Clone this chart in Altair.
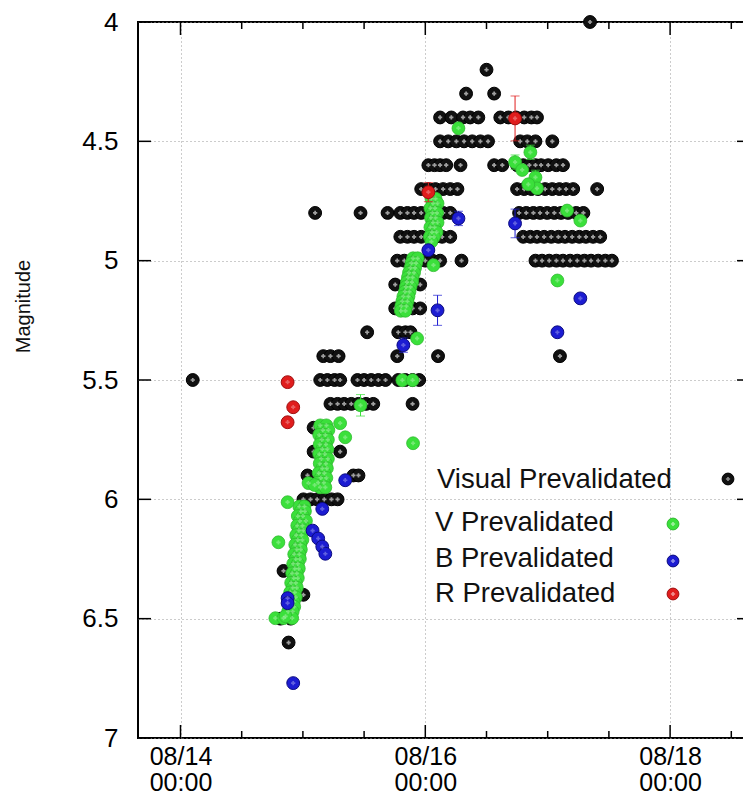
import altair as alt
import pandas as pd

FONT = "Liberation Sans"

# ---- data: hours after 2013-08-14 00:00 UT and magnitude ----
vis_hours = [
    80.3,
    60.0,
    56.0, 61.5,
    50.9, 53.1, 55.4, 56.8, 58.4, 62.7, 64.3, 65.8, 67.4, 68.8, 69.9,
    50.9, 52.5, 54.1, 55.6, 57.2, 58.8, 60.3, 66.6, 68.0, 69.6, 72.9,
    48.6, 49.8, 50.9, 52.1, 54.9, 61.5, 63.1, 66.0, 67.2, 68.4, 69.6, 70.7, 72.1, 73.7, 75.0,
    47.2, 48.6, 50.0, 51.5, 52.9, 54.3, 66.0, 67.4, 68.8, 70.1, 71.5, 72.9, 74.3, 75.6, 77.0, 81.7,
    26.4, 35.3, 40.6, 43.1, 44.5, 45.8, 47.2, 51.5, 52.9, 66.4, 67.8, 69.2, 70.5, 71.9, 73.3, 74.6, 76.0, 77.6, 79.0,
    43.1, 44.5, 45.8, 47.2, 50.0, 51.3, 52.9, 67.2, 68.6, 69.9, 71.3, 72.7, 74.1, 75.4, 76.8, 78.2, 79.5, 80.9, 82.3,
    42.5, 43.9, 45.3, 46.6, 48.0, 49.4, 50.9, 55.1, 69.6, 70.9, 72.3, 73.7, 75.0, 76.4, 77.8, 79.2, 80.5, 81.9, 83.3, 84.6,
    42.1, 44.1, 47.0,
    42.1, 43.1, 45.5, 47.0,
    36.6, 42.7, 44.1, 45.1,
    28.0, 29.4, 31.0, 42.5, 50.5, 74.4,
    2.4, 27.4, 28.8, 30.2, 31.3, 34.7, 36.0, 37.4, 38.8, 40.2, 42.7, 44.1, 45.5, 46.8,
    29.4, 30.8, 32.1, 33.5, 34.9, 36.4, 37.8, 45.5,
    26.1, 27.4,
    26.1, 31.3,
    24.9, 33.9, 34.9,
    24.1, 25.5, 26.8, 28.2, 29.6, 30.8,
    20.2,
    24.1,
    19.6, 21.6,
    21.2,
]
vis_mag = (
    [4.0] * 1 + [4.2] * 1 + [4.3] * 2 + [4.4] * 11 + [4.5] * 11 + [4.6] * 15
    + [4.7] * 16 + [4.8] * 19 + [4.9] * 19 + [5.0] * 20 + [5.1] * 3 + [5.2] * 4
    + [5.3] * 4 + [5.4] * 6 + [5.5] * 14 + [5.6] * 8 + [5.7] * 2 + [5.8] * 2
    + [5.9] * 3 + [6.0] * 6 + [6.3] * 1 + [6.4] * 1 + [6.5] * 2 + [6.6] * 1
)

v_hours = [
    # run near 08/14 23h
    23.3, 24.3, 23.6, 24.4, 23.0, 24.0, 23.4, 24.6, 22.9, 23.9, 23.2, 24.1,
    22.7, 23.7, 23.0, 23.9, 22.5, 23.5, 22.8, 23.6, 22.3, 23.3, 22.6, 23.4,
    22.1, 23.0, 22.4, 23.2, 21.9, 22.8, 22.2, 23.0, 21.7, 22.6, 22.0, 22.8,
    21.5, 22.4, 21.8, 22.6, 21.3, 22.2, 21.6, 22.3, 21.1, 22.0,
    21.0, 19.2, 18.6, 20.2, 21.9, 20.6,
    # run near 08/15 04h
    27.4, 28.6, 27.9, 29.0, 27.2, 28.4, 27.7, 28.9, 27.3, 28.5, 27.8, 28.8,
    27.2, 28.3, 27.6, 28.9, 27.3, 28.5, 27.8, 28.7, 27.1, 28.2, 27.5, 28.6,
    27.0, 28.1, 27.4, 28.4,
    31.3, 32.3, 25.1, 26.3,
    # scattered
    35.3, 45.6, 43.5, 45.5, 46.4,
    # run near 08/15 20h
    45.6, 46.5, 45.3, 46.2, 45.1, 46.0, 44.8, 45.8, 44.6, 45.5, 44.4, 45.4,
    44.2, 45.1, 44.0, 44.9, 43.7, 44.7, 43.5, 44.5, 43.3, 44.3, 43.2, 44.1,
    # run near 08/16 02h
    49.2, 50.0, 49.5, 50.4, 49.0, 49.9, 49.4, 50.3, 49.1, 50.0, 49.5, 50.4,
    49.0, 49.8, 49.3, 50.2, 48.9, 49.7, 49.2, 49.6,
    54.5,
    65.6, 68.6, 67.0, 69.6, 69.9, 68.2, 75.8, 78.4, 73.9,
]
v_mag = [
    6.03, 6.03, 6.05, 6.05, 6.07, 6.07, 6.09, 6.09, 6.11, 6.11, 6.13, 6.13,
    6.15, 6.15, 6.17, 6.17, 6.19, 6.19, 6.21, 6.21, 6.23, 6.23, 6.25, 6.25,
    6.27, 6.27, 6.29, 6.29, 6.31, 6.31, 6.33, 6.33, 6.35, 6.35, 6.37, 6.37,
    6.39, 6.39, 6.41, 6.41, 6.43, 6.43, 6.45, 6.45, 6.47, 6.47,
    6.012, 6.180, 6.498, 6.498, 6.498, 6.49,
    5.69, 5.69, 5.71, 5.71, 5.73, 5.73, 5.75, 5.75, 5.77, 5.77, 5.79, 5.79,
    5.81, 5.81, 5.83, 5.83, 5.85, 5.85, 5.87, 5.87, 5.89, 5.89, 5.91, 5.91,
    5.93, 5.93, 5.95, 5.95,
    5.681, 5.740, 5.932, 5.94,
    5.606, 5.765, 5.501, 5.501, 5.326,
    4.99, 4.99, 5.01, 5.01, 5.03, 5.03, 5.05, 5.05, 5.07, 5.07, 5.09, 5.09,
    5.11, 5.11, 5.13, 5.13, 5.15, 5.15, 5.17, 5.17, 5.19, 5.19, 5.21, 5.21,
    4.74, 4.74, 4.76, 4.76, 4.78, 4.78, 4.80, 4.80, 4.82, 4.82, 4.84, 4.84,
    4.86, 4.86, 4.88, 4.88, 4.90, 4.90, 4.92, 5.019,
    4.445,
    4.587, 4.546, 4.62, 4.651, 4.697, 4.68, 4.790, 4.832, 5.083,
]
v_err = (
    [0.0] * 52 + [0.0] * 32
    + [0.045, 0.0, 0.0, 0.0, 0.0]
    + [0.0] * 24 + [0.0] * 20 + [0.0]
    + [0.03, 0.03, 0.0, 0.03, 0.0, 0.0, 0.0, 0.0, 0.0]
)

b_hours = [22.1, 21.0, 21.0, 25.9, 27.0, 27.8, 28.4, 27.8, 32.3, 43.7, 50.4, 48.6, 54.5, 65.6, 78.4, 73.9]
b_mag = [6.770, 6.414, 6.435, 6.131, 6.164, 6.198, 6.228, 6.040, 5.920, 5.354, 5.208, 4.956, 4.823, 4.844, 5.158, 5.300]
b_err = [0, 0, 0, 0, 0, 0, 0, 0, 0, 0.03, 0.063, 0, 0.03, 0.06, 0, 0]

r_hours = [21.0, 22.1, 21.0, 48.6, 65.6]
r_mag = [5.509, 5.614, 5.677, 4.713, 4.404]
r_err = [0, 0, 0, 0.04, 0.094]

x_major_ticks = ["2013-08-14T00:00:00Z", "2013-08-16T00:00:00Z", "2013-08-18T00:00:00Z"]
x_minor_ticks = [
    "2013-08-14T12:00:00Z", "2013-08-15T00:00:00Z", "2013-08-15T12:00:00Z",
    "2013-08-16T12:00:00Z", "2013-08-17T00:00:00Z", "2013-08-17T12:00:00Z",
    "2013-08-18T12:00:00Z",
]
y_ticks = [4, 4.5, 5, 5.5, 6, 6.5, 7]
legend_labels = ["Visual Prevalidated", "V Prevalidated", "B Prevalidated", "R Prevalidated"]
series_colors = ["#111111", "#3be03b", "#1c1cd2", "#e01d1d"]
series_strokes = ["#000000", "#30bb30", "#0c0c80", "#a01010"]

W, H = 612, 716


def iso(hours):
    ts = pd.Timestamp("2013-08-14T00:00:00Z") + pd.to_timedelta(hours, unit="h")
    return list(ts.strftime("%Y-%m-%dT%H:%M:%SZ"))


def frame(hours, mags, errs=None):
    df = pd.DataFrame({"t": iso(hours), "mag": mags})
    if errs is not None:
        df["err"] = errs
        df["lo"] = df["mag"] - df["err"]
        df["hi"] = df["mag"] + df["err"]
    return df


vis_df = frame(vis_hours, vis_mag)
v_df = frame(v_hours, v_mag, v_err)
b_df = frame(b_hours, b_mag, b_err)
r_df = frame(r_hours, r_mag, r_err)


def dt(day, h=0, m=0):
    return alt.DateTime(year=2013, month=8, date=day, hours=h, minutes=m, utc=True)


xscale = alt.Scale(type="utc", domain=[dt(13, 15, 40), dt(18, 15, 40)])
yscale = alt.Scale(domain=[4, 7], reverse=True, nice=False, zero=False)

xaxis = alt.Axis(
    values=[dt(14), dt(16), dt(18)],
    labelExpr="[utcFormat(datum.value, '%m/%d'), utcFormat(datum.value, '%H:%M')]",
    ticks=False, domain=False, grid=True, labelFlush=False,
    labelPadding=6, labelBaseline="top", labelLineHeight=26, labelFontSize=25,
)
yaxis = alt.Axis(
    values=y_ticks, format="~g", ticks=False, domain=False, grid=True,
    labelPadding=20, labelFontSize=26, labelBaseline="middle",
    title="Magnitude", titleFontSize=20, titleFontWeight="normal",
    titleX=-109, titleY=284, titleAlign="center", titleBaseline="alphabetic",
)

X = alt.X("t:T", scale=xscale, axis=xaxis, title=None)
Y = alt.Y("mag:Q", scale=yscale, axis=yaxis)
YLO = alt.Y("lo:Q", scale=yscale, axis=yaxis)


def points(df, i):
    base = alt.Chart(df)
    dots = base.mark_circle(
        size=165, color=series_colors[i], stroke=series_strokes[i],
        strokeWidth=1 if i != 1 else 0.8, opacity=1
    ).encode(x=X, y=Y)
    spots = base.mark_point(
        shape="cross", filled=True, size=18, color="white", opacity=0.6 if i == 0 else 0.3
    ).encode(x=X, y=Y)
    return [dots, spots]


def errbars(df, i):
    d = df[df["err"] > 0]
    base = alt.Chart(d)
    rule = base.mark_rule(color=series_colors[i], strokeWidth=1).encode(
        x=X, y=YLO, y2="hi:Q"
    )
    cap_lo = base.mark_tick(color=series_colors[i], orient="horizontal", size=9, thickness=1).encode(x=X, y=YLO)
    cap_hi = base.mark_tick(color=series_colors[i], orient="horizontal", size=9, thickness=1).encode(
        x=X, y=alt.Y("hi:Q", scale=yscale, axis=yaxis)
    )
    return [rule, cap_lo, cap_hi]


layers = []
layers += points(vis_df, 0)
layers += errbars(v_df, 1) + points(v_df, 1)
layers += errbars(b_df, 2) + points(b_df, 2)
layers += errbars(r_df, 3) + points(r_df, 3)

# inward border ticks (gnuplot style)
maj = pd.DataFrame({"t": x_major_ticks})
mnr = pd.DataFrame({"t": x_minor_ticks})
yt = pd.DataFrame({"mag": y_ticks})
tk = dict(color="black", strokeWidth=1.5)
layers += [
    alt.Chart(maj).mark_rule(**tk).encode(x=X, y=alt.value(H), y2=alt.value(H - 13)),
    alt.Chart(maj).mark_rule(**tk).encode(x=X, y=alt.value(0), y2=alt.value(13)),
    alt.Chart(mnr).mark_rule(**tk).encode(x=X, y=alt.value(H), y2=alt.value(H - 7)),
    alt.Chart(mnr).mark_rule(**tk).encode(x=X, y=alt.value(0), y2=alt.value(7)),
    alt.Chart(yt).mark_rule(**tk).encode(y=Y, x=alt.value(0), x2=alt.value(13)),
    alt.Chart(yt).mark_rule(**tk).encode(y=Y, x=alt.value(W - 13), x2=alt.value(W)),
]

# key
text_pos = [(299, 466), (297, 509), (297, 545), (297, 580)]
mark_pos = [(590, 457), (535, 502), (535, 539), (535, 572)]
for i, lab in enumerate(legend_labels):
    ld = pd.DataFrame({"label": [lab]})
    layers.append(
        alt.Chart(ld).mark_text(align="left", baseline="alphabetic", fontSize=27.5, font=FONT, color="#111")
        .encode(text="label:N", x=alt.value(text_pos[i][0]), y=alt.value(text_pos[i][1]))
    )
    layers.append(
        alt.Chart(ld).mark_circle(size=140, color=series_colors[i], stroke=series_strokes[i], strokeWidth=1, opacity=1)
        .encode(x=alt.value(mark_pos[i][0]), y=alt.value(mark_pos[i][1]))
    )
    layers.append(
        alt.Chart(ld).mark_point(shape="cross", filled=True, size=18, color="white", opacity=0.5)
        .encode(x=alt.value(mark_pos[i][0]), y=alt.value(mark_pos[i][1]))
    )

chart = (
    alt.layer(*layers)
    .properties(
        width=W, height=H,
        autosize=alt.AutoSizeParams(type="none"),
        padding={"left": 130, "top": 14, "right": -7, "bottom": 59},
        background="white",
    )
    .configure_view(stroke="black", strokeWidth=2)
    .configure_axis(
        labelFont=FONT, labelColor="black", titleFont=FONT, titleColor="#111",
        gridColor="#999999", gridDash=[1, 3], gridWidth=1, gridOpacity=1,
    )
)

chart.save("out.html", embed_options={"renderer": "svg", "actions": False})
